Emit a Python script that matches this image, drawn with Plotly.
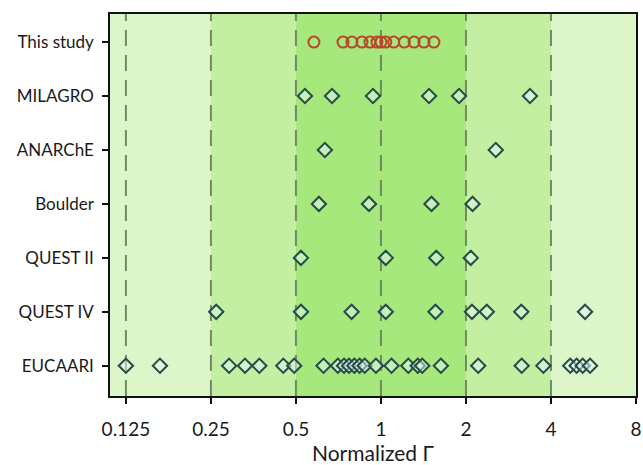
import plotly.graph_objects as go
import numpy as np

categories = ["This study", "MILAGRO", "ANARChE", "Boulder", "QUEST II", "QUEST IV", "EUCAARI"]

this_study = [0.579, 0.734, 0.789, 0.857, 0.914, 0.968, 1.0, 1.04, 1.11, 1.21, 1.31, 1.42, 1.54]
milagro = [0.538, 0.671, 0.937, 1.48, 1.89, 3.37]
anarche = [0.633, 2.55]
boulder = [0.603, 0.907, 1.51, 2.11]
quest2 = [0.521, 1.04, 1.57, 2.08]
quest4 = [0.261, 0.521, 0.787, 1.04, 1.56, 2.10, 2.37, 3.14, 5.28]
eucaari = [0.125, 0.165, 0.29, 0.33, 0.371, 0.451, 0.493, 0.626, 0.704, 0.740, 0.771,
           0.805, 0.840, 0.876, 0.960, 1.09, 1.25, 1.35, 1.40, 1.63, 2.21, 3.15, 3.76,
           4.68, 4.93, 5.18, 5.50]

tick_vals = [0.125, 0.25, 0.5, 1, 2, 4, 8]
tick_text = ["0.125", "0.25", "0.5", "1", "2", "4", "8"]

band_edges = [0.1098, 0.25, 0.5, 2, 4, 8]
band_colors = ["#dcf6c9", "#c2efa2", "#a6e87c", "#c2efa2", "#dcf6c9"]
dash_lines = [0.125, 0.25, 0.5, 1, 2, 4]

FONT = "Lato"

fig = go.Figure()

diamond_series = [milagro, anarche, boulder, quest2, quest4, eucaari]
for i, vals in enumerate(diamond_series, start=1):
    fig.add_trace(go.Scatter(
        x=vals, y=[i] * len(vals), mode="markers",
        marker=dict(symbol="diamond", size=11, color="rgba(225,245,240,0.5)",
                    line=dict(color="#244b48", width=2)),
        showlegend=False, hoverinfo="x"))

fig.add_trace(go.Scatter(
    x=this_study, y=[0] * len(this_study), mode="markers",
    marker=dict(symbol="circle", size=11, color="rgba(0,0,0,0)",
                line=dict(color="#b4472c", width=2)),
    showlegend=False, hoverinfo="x"))

shapes = []
for j in range(len(band_colors)):
    shapes.append(dict(type="rect", xref="x", yref="paper",
                       x0=band_edges[j], x1=band_edges[j + 1], y0=0, y1=1,
                       fillcolor=band_colors[j], line=dict(width=0), layer="below"))
for v in dash_lines:
    shapes.append(dict(type="line", xref="x", yref="paper", x0=v, x1=v, y0=0, y1=1,
                       line=dict(color="#6e8c62", width=2, dash="16px,9px"), layer="below"))

fig.update_layout(
    width=643, height=465,
    margin=dict(l=110, r=7, t=14, b=69),
    paper_bgcolor="white", plot_bgcolor="white",
    shapes=shapes,
    font=dict(family=FONT, color="#1a1a1a"),
    xaxis=dict(type="log", range=[np.log10(band_edges[0]), np.log10(8)],
               tickvals=tick_vals, ticktext=tick_text,
               ticks="outside", ticklen=6, tickwidth=1.5, tickcolor="#111",
               showline=True, linecolor="#111", linewidth=1.5, mirror=True,
               showgrid=False, zeroline=False, automargin=False,
               ticklabelstandoff=9,
               tickfont=dict(size=19, family=FONT),
               title=dict(text="Normalized Γ", font=dict(size=21, family=FONT), standoff=14)),
    yaxis=dict(range=[6.56, -0.52], tickvals=list(range(len(categories))), ticktext=categories,
               ticks="outside", ticklen=6, tickwidth=1.5, tickcolor="#111",
               showline=True, linecolor="#111", linewidth=1.5, mirror=True,
               showgrid=False, zeroline=False, automargin=False,
               ticklabelstandoff=5,
               tickfont=dict(size=17, family=FONT)),
)

fig.write_html("out.html")
